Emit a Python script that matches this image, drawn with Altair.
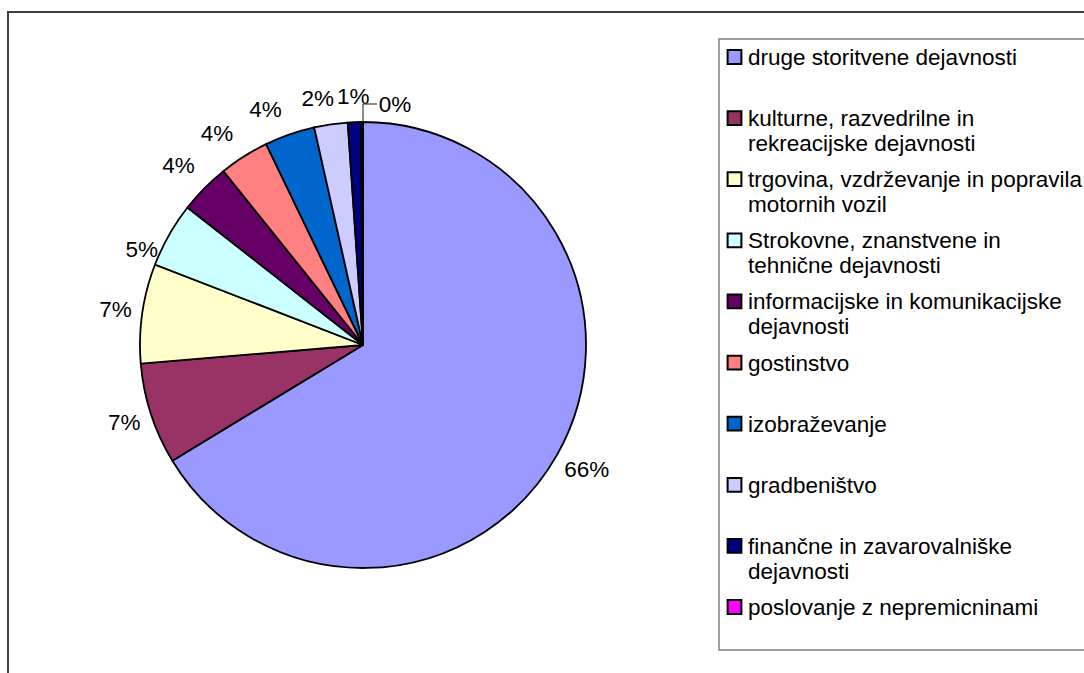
import altair as alt
import pandas as pd

categories = [
    "druge storitvene dejavnosti",
    "kulturne, razvedrilne in rekreacijske dejavnosti",
    "trgovina, vzdrževanje in popravila motornih vozil",
    "Strokovne, znanstvene in tehnične dejavnosti",
    "informacijske in komunikacijske dejavnosti",
    "gostinstvo",
    "izobraževanje",
    "gradbeništvo",
    "finančne in zavarovalniške dejavnosti",
    "poslovanje z nepremicninami",
]
legend_labels = [
    "druge storitvene dejavnosti",
    "kulturne, razvedrilne in\nrekreacijske dejavnosti",
    "trgovina, vzdrževanje in popravila\nmotornih vozil",
    "Strokovne, znanstvene in\ntehnične dejavnosti",
    "informacijske in komunikacijske\ndejavnosti",
    "gostinstvo",
    "izobraževanje",
    "gradbeništvo",
    "finančne in zavarovalniške\ndejavnosti",
    "poslovanje z nepremicninami",
]
shares = [66.3, 7.35, 7.2, 4.7, 3.66, 3.61, 3.64, 2.42, 0.95, 0.14]
colors = ["#9999FF", "#993366", "#FFFFCC", "#CCFFFF", "#660066",
          "#FF8080", "#0066CC", "#CCCCFF", "#000080", "#FF00FF"]

total = sum(shares)
df = pd.DataFrame({
    "idx": list(range(len(categories))),
    "category": categories,
    "legend": legend_labels,
    "share": shares,
    "label": [f"{int(round(s / total * 100))}%" for s in shares],
})

FONT = "Liberation Sans"
FS = 22.5
CX, CY, R = 363, 345, 223
W, H = 1084, 673
LABEL_R = 251

# label placement nudges (pixels), Excel "best fit" style
NUDGE = {0: (5, 2), 1: (0, 0), 2: (1, 1), 3: (-3, 29), 4: (-6, -3), 5: (-12, 1),
         6: (-15, 2), 7: (-9, 2), 8: (0, 3)}

color = alt.Color("category:N", scale=alt.Scale(domain=categories, range=colors), legend=None)
theta = alt.Theta("share:Q", stack=True)
order = alt.Order("idx:Q")

one = pd.DataFrame({"a": [0]})

outer_frame = alt.Chart(one).mark_rect(fillOpacity=0, stroke="#404040", strokeWidth=2).encode(
    x=alt.value(8), x2=alt.value(1300), y=alt.value(12), y2=alt.value(900))
legend_frame = alt.Chart(one).mark_rect(fillOpacity=0, stroke="#808080", strokeWidth=1.5).encode(
    x=alt.value(719), x2=alt.value(1300), y=alt.value(39), y2=alt.value(650))

base = alt.Chart(df)
pie = base.mark_arc(outerRadius=R, stroke="black", strokeWidth=1.8).encode(
    theta=theta, order=order, color=color, x=alt.value(CX), y=alt.value(CY))


def label_layer(i, radius, dx, dy):
    return base.transform_calculate(
        t=f"datum.idx == {i} ? datum.label : ''"
    ).mark_text(radius=radius, dx=dx, dy=dy, font=FONT, fontSize=FS, color="black").encode(
        theta=theta, order=order, text="t:N", x=alt.value(CX), y=alt.value(CY))


label_layers = [label_layer(i, LABEL_R, dx, dy) for i, (dx, dy) in NUDGE.items()]
label_layers.append(label_layer(9, 241, 33, 1))

leader_v = alt.Chart(one).mark_rule(color="#404040", strokeWidth=1.2).encode(
    x=alt.value(CX), y=alt.value(104), y2=alt.value(CY - R))
leader_h = alt.Chart(one).mark_rule(color="#404040", strokeWidth=1.2).encode(
    x=alt.value(CX), x2=alt.value(377), y=alt.value(104))

yrow = alt.Y("idx:Q", scale=alt.Scale(domain=[0, 9], range=[57, 607], nice=False, zero=False), axis=None)
swatches = base.mark_square(size=190, stroke="black", strokeWidth=2, opacity=1).encode(
    x=alt.value(734.5), y=yrow, color=color)
leg_text = base.mark_text(align="left", baseline="alphabetic", dy=8, lineBreak="\n", lineHeight=25,
                          font=FONT, fontSize=FS, color="black").encode(
    x=alt.value(748), y=yrow, text="legend:N")

chart = alt.layer(outer_frame, legend_frame, pie, *label_layers, leader_v, leader_h,
                  swatches, leg_text).properties(
    width=W, height=H, autosize=alt.AutoSizeParams(type="none"), padding=0,
    background="white"
).configure_view(stroke=None)

chart.save("out.html", embed_options={"renderer": "svg", "actions": False})
